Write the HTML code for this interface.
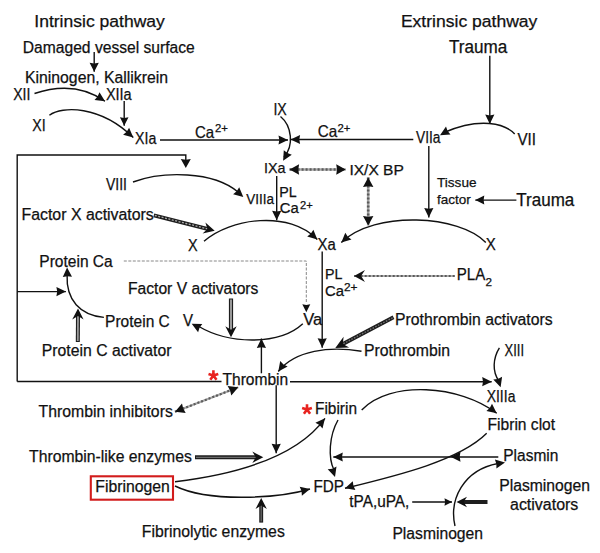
<!DOCTYPE html>
<html><head><meta charset="utf-8"><style>
html,body{margin:0;padding:0;background:#fff;}
svg{display:block;}
text{font-family:"Liberation Sans", sans-serif;}
</style></head><body>
<svg width="600" height="553" viewBox="0 0 600 553">
<rect width="600" height="553" fill="#fff"/>
<text x="34.3" y="26.6" font-size="17.4" textLength="130.5" lengthAdjust="spacingAndGlyphs" fill="#111" stroke="#111" stroke-width="0.25" >Intrinsic pathway</text>
<text x="400.9" y="26.6" font-size="17.4" textLength="136.5" lengthAdjust="spacingAndGlyphs" fill="#111" stroke="#111" stroke-width="0.25" >Extrinsic pathway</text>
<text x="22.8" y="52.7" font-size="16" textLength="172" lengthAdjust="spacingAndGlyphs" fill="#111" stroke="#111" stroke-width="0.25" >Damaged vessel surface</text>
<text x="25" y="82.9" font-size="16" textLength="143" lengthAdjust="spacingAndGlyphs" fill="#111" stroke="#111" stroke-width="0.25" >Kininogen, Kallikrein</text>
<text x="13.2" y="99.6" font-size="16" textLength="17.2" lengthAdjust="spacingAndGlyphs" fill="#111" stroke="#111" stroke-width="0.25" >XII</text>
<text x="105.9" y="99.6" font-size="16" textLength="25.8" lengthAdjust="spacingAndGlyphs" fill="#111" stroke="#111" stroke-width="0.25" >XIIa</text>
<text x="32.2" y="131.3" font-size="16" textLength="13.4" lengthAdjust="spacingAndGlyphs" fill="#111" stroke="#111" stroke-width="0.25" >XI</text>
<text x="135" y="143.6" font-size="16" textLength="21.3" lengthAdjust="spacingAndGlyphs" fill="#111" stroke="#111" stroke-width="0.25" >XIa</text>
<text x="195" y="137.5" font-size="16.5" textLength="19.2" lengthAdjust="spacingAndGlyphs" fill="#111" stroke="#111" stroke-width="0.25" >Ca</text>
<text x="215" y="131.6" font-size="10.2" textLength="12.9" lengthAdjust="spacingAndGlyphs" fill="#111" stroke="#111" stroke-width="0.25" >2+</text>
<text x="273.4" y="114.5" font-size="16" textLength="13.4" lengthAdjust="spacingAndGlyphs" fill="#111" stroke="#111" stroke-width="0.25" >IX</text>
<text x="317.7" y="137.3" font-size="16.5" textLength="19.5" lengthAdjust="spacingAndGlyphs" fill="#111" stroke="#111" stroke-width="0.25" >Ca</text>
<text x="337.5" y="131.6" font-size="10.2" textLength="12.9" lengthAdjust="spacingAndGlyphs" fill="#111" stroke="#111" stroke-width="0.25" >2+</text>
<text x="416" y="142.6" font-size="16" textLength="24.5" lengthAdjust="spacingAndGlyphs" fill="#111" stroke="#111" stroke-width="0.25" >VIIa</text>
<text x="517.5" y="144.8" font-size="16" textLength="18.5" lengthAdjust="spacingAndGlyphs" fill="#111" stroke="#111" stroke-width="0.25" >VII</text>
<text x="449" y="52.7" font-size="17.5" textLength="58.3" lengthAdjust="spacingAndGlyphs" fill="#111" stroke="#111" stroke-width="0.25" >Trauma</text>
<text x="264" y="172.8" font-size="15" textLength="21.5" lengthAdjust="spacingAndGlyphs" fill="#111" stroke="#111" stroke-width="0.25" >IXa</text>
<text x="349.4" y="174.5" font-size="15" textLength="54.5" lengthAdjust="spacingAndGlyphs" fill="#111" stroke="#111" stroke-width="0.25" >IX/X BP</text>
<text x="106" y="190.3" font-size="16" textLength="21" lengthAdjust="spacingAndGlyphs" fill="#111" stroke="#111" stroke-width="0.25" >VIII</text>
<text x="246.3" y="204.1" font-size="15.3" textLength="27.8" lengthAdjust="spacingAndGlyphs" fill="#111" stroke="#111" stroke-width="0.25" >VIIIa</text>
<text x="279.3" y="196.8" font-size="14.5" textLength="17.4" lengthAdjust="spacingAndGlyphs" fill="#111" stroke="#111" stroke-width="0.25" >PL</text>
<text x="279.7" y="212.6" font-size="15.3" textLength="19" lengthAdjust="spacingAndGlyphs" fill="#111" stroke="#111" stroke-width="0.25" >Ca</text>
<text x="300" y="208.6" font-size="10.2" textLength="12.7" lengthAdjust="spacingAndGlyphs" fill="#111" stroke="#111" stroke-width="0.25" >2+</text>
<text x="437" y="187.4" font-size="13.5" textLength="39.5" lengthAdjust="spacingAndGlyphs" fill="#111" stroke="#111" stroke-width="0.25" >Tissue</text>
<text x="437" y="204.3" font-size="13.5" textLength="33.8" lengthAdjust="spacingAndGlyphs" fill="#111" stroke="#111" stroke-width="0.25" >factor</text>
<text x="516.3" y="205.5" font-size="17.5" textLength="58" lengthAdjust="spacingAndGlyphs" fill="#111" stroke="#111" stroke-width="0.25" >Trauma</text>
<text x="21.5" y="220.1" font-size="16" textLength="132.3" lengthAdjust="spacingAndGlyphs" fill="#111" stroke="#111" stroke-width="0.25" >Factor X activators</text>
<text x="188" y="250.6" font-size="16" textLength="9.6" lengthAdjust="spacingAndGlyphs" fill="#111" stroke="#111" stroke-width="0.25" >X</text>
<text x="317.5" y="249.8" font-size="16" textLength="18.2" lengthAdjust="spacingAndGlyphs" fill="#111" stroke="#111" stroke-width="0.25" >Xa</text>
<text x="485.8" y="250.3" font-size="16" textLength="10" lengthAdjust="spacingAndGlyphs" fill="#111" stroke="#111" stroke-width="0.25" >X</text>
<text x="39.3" y="266.5" font-size="16" textLength="73.4" lengthAdjust="spacingAndGlyphs" fill="#111" stroke="#111" stroke-width="0.25" >Protein Ca</text>
<text x="325" y="279.2" font-size="14.8" textLength="17.4" lengthAdjust="spacingAndGlyphs" fill="#111" stroke="#111" stroke-width="0.25" >PL</text>
<text x="325" y="296.2" font-size="15.5" textLength="19" lengthAdjust="spacingAndGlyphs" fill="#111" stroke="#111" stroke-width="0.25" >Ca</text>
<text x="344" y="290.7" font-size="10.2" textLength="13.5" lengthAdjust="spacingAndGlyphs" fill="#111" stroke="#111" stroke-width="0.25" >2+</text>
<text x="456.8" y="280.1" font-size="16" textLength="28.5" lengthAdjust="spacingAndGlyphs" fill="#111" stroke="#111" stroke-width="0.25" >PLA</text>
<text x="485.5" y="285.7" font-size="10.5" textLength="6.5" lengthAdjust="spacingAndGlyphs" fill="#111" stroke="#111" stroke-width="0.25" >2</text>
<text x="128" y="294.3" font-size="16" textLength="130.4" lengthAdjust="spacingAndGlyphs" fill="#111" stroke="#111" stroke-width="0.25" >Factor V activators</text>
<text x="105.1" y="326.6" font-size="16" textLength="64.7" lengthAdjust="spacingAndGlyphs" fill="#111" stroke="#111" stroke-width="0.25" >Protein C</text>
<text x="183" y="326.1" font-size="16" textLength="10" lengthAdjust="spacingAndGlyphs" fill="#111" stroke="#111" stroke-width="0.25" >V</text>
<text x="303.2" y="324.6" font-size="16" textLength="19" lengthAdjust="spacingAndGlyphs" fill="#111" stroke="#111" stroke-width="0.25" >Va</text>
<text x="395" y="325.3" font-size="16" textLength="157.6" lengthAdjust="spacingAndGlyphs" fill="#111" stroke="#111" stroke-width="0.25" >Prothrombin activators</text>
<text x="41.8" y="356.2" font-size="16" textLength="129.7" lengthAdjust="spacingAndGlyphs" fill="#111" stroke="#111" stroke-width="0.25" >Protein C activator</text>
<text x="364" y="355.7" font-size="16" textLength="86" lengthAdjust="spacingAndGlyphs" fill="#111" stroke="#111" stroke-width="0.25" >Prothrombin</text>
<text x="504.5" y="356.2" font-size="16" textLength="19.5" lengthAdjust="spacingAndGlyphs" fill="#111" stroke="#111" stroke-width="0.25" >XIII</text>
<text x="222.5" y="384.7" font-size="16" textLength="65.7" lengthAdjust="spacingAndGlyphs" fill="#111" stroke="#111" stroke-width="0.25" >Thrombin</text>
<text x="486.7" y="401.6" font-size="16" textLength="28.7" lengthAdjust="spacingAndGlyphs" fill="#111" stroke="#111" stroke-width="0.25" >XIIIa</text>
<text x="38.5" y="416.5" font-size="16" textLength="134.3" lengthAdjust="spacingAndGlyphs" fill="#111" stroke="#111" stroke-width="0.25" >Thrombin inhibitors</text>
<text x="315" y="414.1" font-size="16" textLength="42" lengthAdjust="spacingAndGlyphs" fill="#111" stroke="#111" stroke-width="0.25" >Fibirin</text>
<text x="487.6" y="429.8" font-size="16" textLength="67.5" lengthAdjust="spacingAndGlyphs" fill="#111" stroke="#111" stroke-width="0.25" >Fibrin clot</text>
<text x="29.1" y="462.4" font-size="16" textLength="162.7" lengthAdjust="spacingAndGlyphs" fill="#111" stroke="#111" stroke-width="0.25" >Thrombin-like enzymes</text>
<text x="503.3" y="461.1" font-size="16" textLength="55" lengthAdjust="spacingAndGlyphs" fill="#111" stroke="#111" stroke-width="0.25" >Plasmin</text>
<text x="95.3" y="491.7" font-size="16" textLength="74.5" lengthAdjust="spacingAndGlyphs" fill="#111" stroke="#111" stroke-width="0.25" >Fibrinogen</text>
<text x="313.5" y="491.5" font-size="16" textLength="30.5" lengthAdjust="spacingAndGlyphs" fill="#111" stroke="#111" stroke-width="0.25" >FDP</text>
<text x="499.2" y="491.1" font-size="16" textLength="90.8" lengthAdjust="spacingAndGlyphs" fill="#111" stroke="#111" stroke-width="0.25" >Plasminogen</text>
<text x="510" y="509.6" font-size="16" textLength="68.3" lengthAdjust="spacingAndGlyphs" fill="#111" stroke="#111" stroke-width="0.25" >activators</text>
<text x="349.3" y="506.7" font-size="16" textLength="60" lengthAdjust="spacingAndGlyphs" fill="#111" stroke="#111" stroke-width="0.25" >tPA,uPA,</text>
<text x="141.8" y="536.5" font-size="16" textLength="143" lengthAdjust="spacingAndGlyphs" fill="#111" stroke="#111" stroke-width="0.25" >Fibrinolytic enzymes</text>
<text x="392.4" y="538.7" font-size="16" textLength="90.6" lengthAdjust="spacingAndGlyphs" fill="#111" stroke="#111" stroke-width="0.25" >Plasminogen</text>
<path d="M213.4 375.5 L213.4 370.3 M213.4 375.5 L218.3 373.9 M213.4 375.5 L216.5 379.7 M213.4 375.5 L210.3 379.7 M213.4 375.5 L208.5 373.9 " stroke="#e8231f" stroke-width="2.6" fill="none" stroke-linecap="butt"/>
<path d="M307.0 409.5 L307.0 404.3 M307.0 409.5 L311.9 407.9 M307.0 409.5 L310.1 413.7 M307.0 409.5 L303.9 413.7 M307.0 409.5 L302.1 407.9 " stroke="#e8231f" stroke-width="2.6" fill="none" stroke-linecap="butt"/>
<rect x="90.8" y="476.3" width="82.2" height="23.4" fill="none" stroke="#d21c1c" stroke-width="2.1"/>
<path d="M94.2 52 L94.2 71.7" fill="none" stroke="#111" stroke-width="1.4" />
<polygon points="94.2,71.7 89.6,62.7 94.2,63.4 98.8,62.7" fill="#111"/>
<path d="M34.5 93.5 Q75 80 105 101.3" fill="none" stroke="#111" stroke-width="1.4" />
<polygon points="105.0,101.3 94.5,100.1 97.6,96.6 99.5,92.3" fill="#111"/>
<path d="M124.2 101 L124.2 125.8" fill="none" stroke="#111" stroke-width="1.4" />
<polygon points="124.2,125.8 119.9,117.3 124.2,118.0 128.5,117.3" fill="#111"/>
<path d="M49.4 115.2 C62 106 100 105 133.3 137.5" fill="none" stroke="#111" stroke-width="1.4" />
<polygon points="133.3,137.5 123.1,134.8 126.7,131.8 129.1,127.8" fill="#111"/>
<path d="M160 140 L288 140" fill="none" stroke="#111" stroke-width="1.4" />
<polygon points="288.0,140.0 278.5,144.6 279.3,140.0 278.5,135.4" fill="#111"/>
<path d="M413.3 139.5 L290.6 139.5" fill="none" stroke="#111" stroke-width="1.4" />
<polygon points="290.6,139.5 300.1,134.9 299.3,139.5 300.1,144.1" fill="#111"/>
<path d="M280.5 116.5 C292 126 294 146 284 157" fill="none" stroke="#111" stroke-width="1.4" />
<polygon points="283.1,160.7 283.8,150.2 287.4,153.1 291.8,154.7" fill="#111"/>
<path d="M17.2 381.5 L17.2 155 L185.8 155 L185.8 160" fill="none" stroke="#111" stroke-width="1.4" />
<polygon points="185.8,168.0 180.8,159.0 185.8,159.7 190.8,159.0" fill="#111"/>
<path d="M17.2 381.5 L221.5 381.5" fill="none" stroke="#111" stroke-width="1.4" />
<path d="M133 182 C163 171 213 171 238 192" fill="none" stroke="#111" stroke-width="1.4" />
<polygon points="243.3,197.0 233.1,194.2 236.7,191.2 239.2,187.3" fill="#111"/>
<path d="M276.7 176 L276.7 220.3" fill="none" stroke="#111" stroke-width="1.4" />
<polygon points="276.7,220.3 272.1,210.8 276.7,211.6 281.3,210.8" fill="#111"/>
<path d="M289.6 169.5 L345.7 169.5" fill="none" stroke="#a8a8a8" stroke-width="2.6" />
<path d="M289.6 169.5 L345.7 169.5" fill="none" stroke="#5c5c5c" stroke-width="2.6" stroke-dasharray="2 2"/>
<polygon points="345.7,169.5 336.2,174.7 337.0,169.5 336.2,164.3" fill="#111"/>
<polygon points="289.6,169.5 299.1,164.3 298.3,169.5 299.1,174.7" fill="#111"/>
<path d="M368.2 177.5 L368.2 225.5" fill="none" stroke="#a8a8a8" stroke-width="2.6" />
<path d="M368.2 177.5 L368.2 225.5" fill="none" stroke="#5c5c5c" stroke-width="2.6" stroke-dasharray="2 2"/>
<polygon points="368.2,225.5 363.0,216.0 368.2,216.8 373.4,216.0" fill="#111"/>
<polygon points="368.2,177.5 373.4,187.0 368.2,186.2 363.0,187.0" fill="#111"/>
<path d="M428.8 146 L428.8 217.5" fill="none" stroke="#111" stroke-width="1.4" />
<polygon points="428.8,217.5 424.2,208.0 428.8,208.8 433.4,208.0" fill="#111"/>
<path d="M489.8 55.7 L489.8 124.1" fill="none" stroke="#111" stroke-width="1.4" />
<polygon points="489.8,124.1 485.2,114.6 489.8,115.4 494.4,114.6" fill="#111"/>
<path d="M514.7 134 C505 123.5 480 117 444 132.5" fill="none" stroke="#111" stroke-width="1.4" />
<polygon points="440.0,135.3 446.0,126.6 447.6,131.0 450.5,134.6" fill="#111"/>
<path d="M516.4 200.1 L475.3 200.1" fill="none" stroke="#111" stroke-width="1.4" />
<polygon points="475.3,200.1 484.3,195.6 483.6,200.1 484.3,204.6" fill="#111"/>
<path d="M153.8 215.3 L208.3 229.1" fill="none" stroke="#1e1e1e" stroke-width="3.9" />
<path d="M154.8 215.5 L208.3 229.1" fill="none" stroke="#aaa" stroke-width="1.3" stroke-dasharray="2 1.5"/>
<polygon points="214.7,230.7 202.6,233.5 207.4,228.9 205.4,222.5" fill="#111"/>
<path d="M204 241.3 C230 218 290 210 317.3 239.5" fill="none" stroke="#111" stroke-width="1.4" />
<polygon points="317.3,239.5 307.2,236.4 310.9,233.6 313.4,229.7" fill="#111"/>
<path d="M485.8 242.5 C460 215 375 210 341.3 242.5" fill="none" stroke="#111" stroke-width="1.4" />
<polygon points="341.3,242.5 345.3,232.8 347.8,236.7 351.5,239.6" fill="#111"/>
<path d="M123.8 261 L306.3 261 L306.3 303" fill="none" stroke="#888" stroke-width="1.0" stroke-dasharray="3 1.5"/>
<polygon points="306.3,312.3 302.3,304.3 306.3,304.9 310.3,304.3" fill="#111"/>
<path d="M17.2 291.6 L65.9 291.6" fill="none" stroke="#111" stroke-width="1.4" />
<polygon points="65.9,291.6 56.4,296.2 57.2,291.6 56.4,287.0" fill="#111"/>
<path d="M103.9 317.4 C80 315 66 300 67.1 275" fill="none" stroke="#111" stroke-width="1.4" />
<polygon points="67.1,267.5 72.0,276.8 67.4,276.2 62.8,277.1" fill="#111"/>
<path d="M77.8 342 L78.0 315.2" fill="none" stroke="#1e1e1e" stroke-width="4" />
<path d="M77.8 341.0 L78.0 315.2" fill="none" stroke="#999" stroke-width="1.8" />
<polygon points="78.0,308.6 83.6,319.6 78.0,316.1 72.2,319.6" fill="#111"/>
<path d="M231 298.5 L231.0 330.7" fill="none" stroke="#1e1e1e" stroke-width="4.2" />
<path d="M231.0 299.5 L231.0 330.7" fill="none" stroke="#999" stroke-width="2" />
<polygon points="231.0,337.3 225.3,326.3 231.0,329.8 236.7,326.3" fill="#111"/>
<path d="M302.8 323.8 C280 345 230 345 198 326" fill="none" stroke="#111" stroke-width="1.4" />
<polygon points="191.7,323.8 202.3,324.0 199.5,327.7 198.1,332.2" fill="#111"/>
<path d="M261.4 373.3 L261.4 338.5" fill="none" stroke="#111" stroke-width="1.4" />
<polygon points="261.4,338.5 266.0,348.0 261.4,347.2 256.8,348.0" fill="#111"/>
<path d="M454.7 276 L354 276" fill="none" stroke="#b0b0b0" stroke-width="2.2" />
<path d="M454.7 276 L354 276" fill="none" stroke="#5a5a5a" stroke-width="2.2" stroke-dasharray="2 2"/>
<polygon points="354.0,276.0 365.0,270.0 361.1,276.0 365.0,282.0" fill="#111"/>
<path d="M322.2 251.5 L322.2 347.7" fill="none" stroke="#111" stroke-width="1.4" />
<polygon points="322.2,347.7 317.6,338.2 322.2,339.0 326.8,338.2" fill="#111"/>
<path d="M393.5 317.3 L341.9 344.4" fill="none" stroke="#1e1e1e" stroke-width="3.9" />
<path d="M392.6 317.8 L341.9 344.4" fill="none" stroke="#777" stroke-width="1.3" stroke-dasharray="1.6 1.4"/>
<polygon points="335.3,347.9 343.6,336.8 342.8,343.9 349.2,347.4" fill="#111"/>
<path d="M361.5 351.3 C330 346 295 350 278.3 371.5" fill="none" stroke="#111" stroke-width="1.4" />
<polygon points="278.3,371.5 280.2,361.1 283.5,364.5 287.6,366.6" fill="#111"/>
<path d="M290 381.7 L491.7 381.7" fill="none" stroke="#111" stroke-width="1.4" />
<polygon points="491.7,381.7 482.2,386.3 483.0,381.7 482.2,377.1" fill="#111"/>
<path d="M499.4 347.8 C493 358 492 372 499 381" fill="none" stroke="#111" stroke-width="1.4" />
<polygon points="500.6,387.2 493.3,379.6 497.9,378.9 502.1,376.8" fill="#111"/>
<path d="M175 411.7 L238.3 387.3" fill="none" stroke="#a8a8a8" stroke-width="2.2" />
<path d="M175 411.7 L238.3 387.3" fill="none" stroke="#5c5c5c" stroke-width="2.2" stroke-dasharray="2 2"/>
<polygon points="238.3,387.3 231.3,395.6 230.1,390.4 227.6,385.9" fill="#111"/>
<polygon points="175.0,411.7 182.0,403.4 183.2,408.6 185.7,413.1" fill="#111"/>
<path d="M276.2 385.3 L276.2 453.3" fill="none" stroke="#111" stroke-width="1.4" />
<polygon points="276.2,453.3 271.6,443.8 276.2,444.6 280.8,443.8" fill="#111"/>
<path d="M195 457.3 L256.7 457.3" fill="none" stroke="#1e1e1e" stroke-width="3.9" />
<path d="M196.0 457.3 L256.7 457.3" fill="none" stroke="#6a6a6a" stroke-width="1.3" />
<polygon points="263.3,457.3 252.3,463.0 255.8,457.3 252.3,451.6" fill="#111"/>
<path d="M175 481.7 C230 475 295 460 325 418.3" fill="none" stroke="#111" stroke-width="1.4" />
<polygon points="325.0,418.3 322.5,428.6 319.4,425.0 315.4,422.7" fill="#111"/>
<path d="M175 486 C210 503 280 498 310 489" fill="none" stroke="#111" stroke-width="1.4" />
<polygon points="310.0,489.0 301.9,495.8 301.5,491.1 299.7,486.8" fill="#111"/>
<path d="M361.7 410 C390 380 460 385 496.7 413.3" fill="none" stroke="#111" stroke-width="1.4" />
<polygon points="496.7,413.3 486.4,411.1 489.8,407.9 492.0,403.8" fill="#111"/>
<path d="M338 420 C329 436 328 458 334 470" fill="none" stroke="#111" stroke-width="1.4" />
<polygon points="335.0,477.0 327.7,469.3 332.4,468.7 336.5,466.6" fill="#111"/>
<path d="M498.3 457 L333.3 457" fill="none" stroke="#111" stroke-width="1.4" />
<polygon points="333.3,457.0 342.8,452.4 342.0,457.0 342.8,461.6" fill="#111"/>
<polygon points="450.5,456.8 460.5,451.8 459.7,456.8 460.5,461.8" fill="#111"/>
<path d="M486.7 433.3 C460 460 400 475 345 488.3" fill="none" stroke="#111" stroke-width="1.4" />
<polygon points="345.0,488.3 352.8,481.2 353.4,485.8 355.4,490.0" fill="#111"/>
<path d="M455 526 C449 500 463 470 498 463.5" fill="none" stroke="#111" stroke-width="1.4" />
<polygon points="505.0,462.5 496.4,468.6 496.4,463.9 494.9,459.5" fill="#111"/>
<path d="M412.2 502 L452 502" fill="none" stroke="#111" stroke-width="1.4" />
<polygon points="452.0,502.0 444.5,505.8 445.1,502.0 444.5,498.2" fill="#111"/>
<path d="M487.5 502 L462.8 502.0" fill="none" stroke="#1e1e1e" stroke-width="4" />
<polygon points="456.5,502.0 467.0,496.7 463.6,502.0 467.0,507.3" fill="#111"/>
<path d="M261.2 522.6 L261.2 504.6" fill="none" stroke="#1e1e1e" stroke-width="3.9" />
<path d="M261.2 521.6 L261.2 504.6" fill="none" stroke="#6a6a6a" stroke-width="1.3" />
<polygon points="261.2,498.0 266.9,509.0 261.2,505.5 255.5,509.0" fill="#111"/>
</svg></body></html>
